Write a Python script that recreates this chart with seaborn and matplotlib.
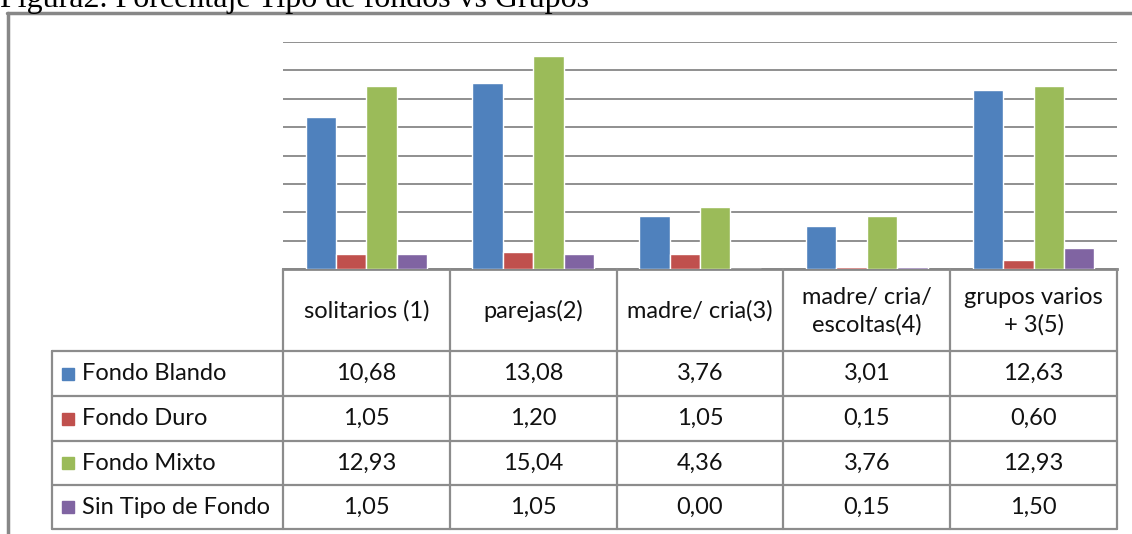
import matplotlib
matplotlib.use("Agg")
import matplotlib.pyplot as plt
import matplotlib.transforms as mtransforms
from matplotlib.lines import Line2D
from matplotlib.patches import Rectangle
import seaborn as sns
import pandas as pd

# ---- data ----
title = "Figura2. Porcentaje Tipo de fondos vs Grupos"
grupos = ["solitarios (1)", "parejas(2)", "madre/ cria(3)",
          "madre/ cria/\nescoltas(4)", "grupos varios\n+ 3(5)"]
series = ["Fondo Blando", "Fondo Duro", "Fondo Mixto", "Sin Tipo de Fondo"]
fondo_blando = [10.68, 13.08, 3.76, 3.01, 12.63]
fondo_duro = [1.05, 1.20, 1.05, 0.15, 0.60]
fondo_mixto = [12.93, 15.04, 4.36, 3.76, 12.93]
sin_tipo = [1.05, 1.05, 0.00, 0.15, 1.50]
colores = ["#4F81BD", "#C0504D", "#9BBB59", "#8064A2"]

valores = [fondo_blando, fondo_duro, fondo_mixto, sin_tipo]
rows = []
for s, vals in zip(series, valores):
    for g, v in zip(grupos, vals):
        rows.append({"grupo": g, "serie": s, "valor": v})
df = pd.DataFrame(rows)

# ---- figure ----
sns.set_style("white")
plt.rcParams["font.family"] = ["Lato", "DejaVu Sans"]

W, H = 1132, 534
fig = plt.figure(figsize=(W / 100, H / 100), dpi=100)


def fx(px):
    return px / W


def fy(py):
    return 1 - py / H


grid_c = "#878787"
line_c = "#8C8C8C"

ax_l, ax_r, ax_t, ax_b = 283, 1117, 42, 269
ax = fig.add_axes([fx(ax_l), fy(ax_b), fx(ax_r - ax_l), (ax_b - ax_t) / H])
sns.barplot(data=df, x="grupo", y="valor", hue="serie", palette=colores,
            hue_order=series, order=grupos, width=0.73, gap=0,
            saturation=1, legend=False, ax=ax, zorder=3)
ax.set_ylim(0, 16)
ax.set_yticks(range(0, 17, 2))
ax.set_yticklabels([])
ax.set_xticks([])
ax.set_xlabel("")
ax.set_ylabel("")
ax.tick_params(length=0)
ax.yaxis.grid(True, color=grid_c, lw=1.3)
ax.set_axisbelow(True)
for sp in ["top", "right", "left"]:
    ax.spines[sp].set_visible(False)
ax.spines["bottom"].set_color(grid_c)
ax.spines["bottom"].set_linewidth(2)
ax.set_xlim(-0.5, len(grupos) - 0.5)

# ---- title & outer frame ----
fig.text(fx(0), fy(7), title, family="Liberation Serif", fontsize=23,
         ha="left", va="baseline", color="black")
fig.add_artist(Line2D([fx(8), fx(8)], [fy(13), fy(534)], color=grid_c, lw=2.5,
                      transform=fig.transFigure))
fig.add_artist(Line2D([fx(7), fx(1132)], [fy(13), fy(13)], color=grid_c, lw=2.5,
                      transform=fig.transFigure))

# ---- data table ----
blend = mtransforms.blended_transform_factory(ax.transData, fig.transFigure)
row_lines = [351, 396, 441, 485, 529]
tab_left = 52
for y in row_lines:
    fig.add_artist(Line2D([fx(tab_left), fx(ax_r)], [fy(y), fy(y)], color=line_c,
                          lw=1.6, transform=fig.transFigure))
fig.add_artist(Line2D([fx(tab_left), fx(tab_left)], [fy(351), fy(529)], color=line_c,
                      lw=1.6, transform=fig.transFigure))
for i in range(len(grupos) + 1):
    xb = i - 0.5
    fig.add_artist(Line2D([xb, xb], [fy(ax_b), fy(529)], color=line_c, lw=1.6,
                          transform=blend))

fs = 17
for i, g in enumerate(grupos):
    fig.text(i, fy(311), g, transform=blend, ha="center", va="center",
             fontsize=fs, linespacing=1.35, color="#111111")

for r, (s, vals, c) in enumerate(zip(series, valores, colores)):
    yc = (row_lines[r] + row_lines[r + 1]) / 2
    fig.add_artist(Rectangle((fx(62), fy(yc + 6)), fx(12), 12 / H, color=c,
                             transform=fig.transFigure))
    fig.text(fx(82), fy(yc), s, ha="left", va="center", fontsize=fs,
             color="#111111")
    for i, v in enumerate(vals):
        fig.text(i, fy(yc), f"{v:.2f}".replace(".", ","), transform=blend,
                 ha="center", va="center", fontsize=fs, color="#111111")

fig.savefig("out.png", dpi=100)
